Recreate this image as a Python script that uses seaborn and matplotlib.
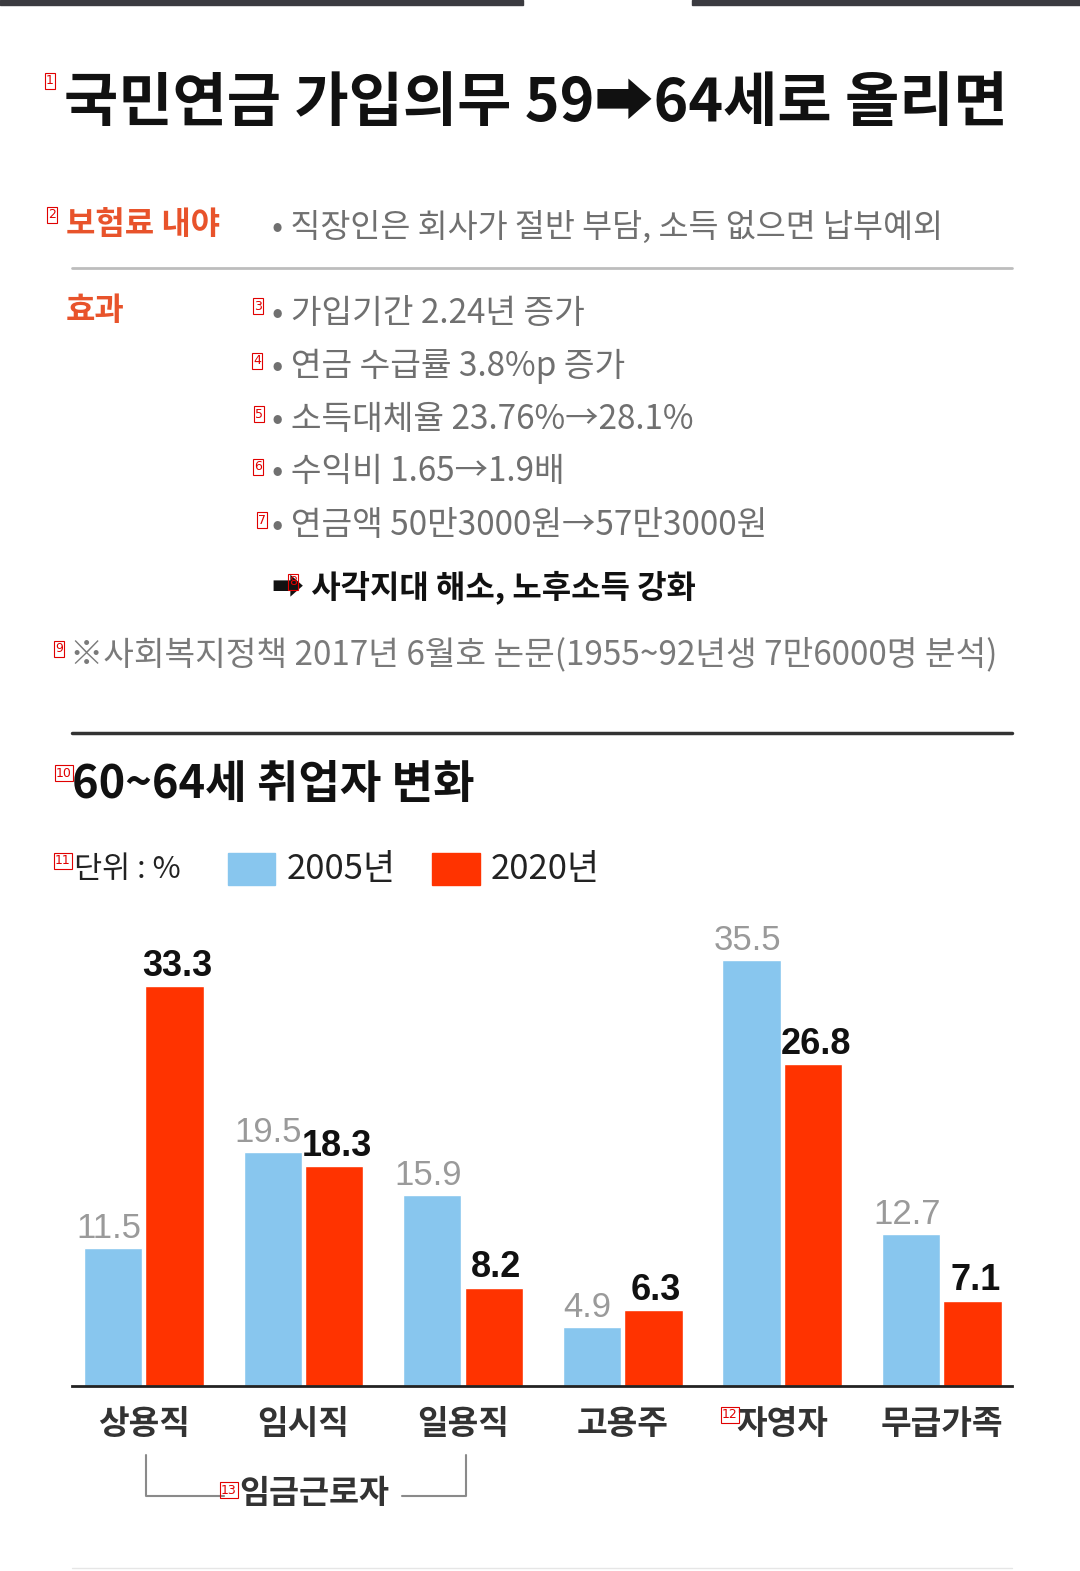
import numpy as np
import pandas as pd
import matplotlib
matplotlib.use('Agg')
import matplotlib.pyplot as plt
import seaborn as sns
from matplotlib.patches import Rectangle
from matplotlib.lines import Line2D

# data
categories = ['상용직', '임시직', '일용직', '고용주', '자영자', '무급가족']
values_2005 = [11.5, 19.5, 15.9, 4.9, 35.5, 12.7]
values_2020 = [33.3, 18.3, 8.2, 6.3, 26.8, 7.1]
years = ['2005년', '2020년']
colors = ['#88C6EE', '#FF3300']

title = '국민연금 가입의무 59➡64세로 올리면'
premium_label = '보험료 내야'
premium_text = '• 직장인은 회사가 절반 부담, 소득 없으면 납부예외'
effect_label = '효과'
effects = ['가입기간 2.24년 증가', '연금 수급률 3.8%p 증가', '소득대체율 23.76%→28.1%',
           '수익비 1.65→1.9배', '연금액 50만3000원→57만3000원']
conclusion = '➡ 사각지대 해소, 노후소득 강화'
source = '※사회복지정책 2017년 6월호 논문(1955~92년생 7만6000명 분석)'
chart_title = '60~64세 취업자 변화'
unit = '단위 : %'
group_label = '임금근로자'
marks = ['1', '2', '3', '4', '5', '6', '7', '8', '9', '10', '11', '12', '13']

df = pd.DataFrame({
    '직종': categories * 2,
    '비율': values_2005 + values_2020,
    '연도': [years[0]] * len(categories) + [years[1]] * len(categories),
})

sns.set_style('white')
plt.rcParams['font.family'] = ['Noto Sans CJK KR', 'DejaVu Sans']

W, H = 1080, 1571
fig = plt.figure(figsize=(W / 100, H / 100), dpi=100)


def fx(x):
    return x / W


def fy(y):
    return 1 - y / H


# top dark strip
fig.add_artist(Rectangle((0, fy(5)), 523 / W, 5 / H, color='#3b3b40', transform=fig.transFigure))
fig.add_artist(Rectangle((fx(692), fy(5)), 388 / W, 5 / H, color='#3b3b40', transform=fig.transFigure))

# header block
fig.text(fx(64), fy(104), title, fontsize=42.5, fontweight='bold', color='#111111', va='center')
fig.text(fx(66), fy(225), premium_label, fontsize=23, fontweight='bold', color='#E8532B', va='center')
fig.text(fx(272), fy(227), premium_text, fontsize=23.5, color='#707070', va='center')
fig.add_artist(Line2D([fx(72), fx(1012)], [fy(268), fy(268)], color='#bdbdbd', lw=2))
fig.text(fx(66), fy(311), effect_label, fontsize=23, fontweight='bold', color='#E8532B', va='center')
for i, t in enumerate(effects):
    fig.text(fx(272), fy(313 + i * 53), '• ' + t, fontsize=24, color='#707070', va='center')
fig.text(fx(272), fy(587), conclusion, fontsize=23, fontweight='bold', color='#111111', va='center')
fig.text(fx(70), fy(655), source, fontsize=24, color='#7a7a7a', va='center')
fig.add_artist(Line2D([fx(72), fx(1012)], [fy(733), fy(733)], color='#333333', lw=2.5))

fig.text(fx(72), fy(785), chart_title, fontsize=32.5, fontweight='bold', color='#111111', va='center')

# legend row
fig.text(fx(74), fy(870), unit, fontsize=22, color='#222222', va='center')
fig.add_artist(Rectangle((fx(228), fy(885)), 47 / W, 32 / H, color=colors[0], transform=fig.transFigure))
fig.text(fx(287), fy(870), years[0], fontsize=25, color='#222222', va='center')
fig.add_artist(Rectangle((fx(432), fy(885)), 48 / W, 32 / H, color=colors[1], transform=fig.transFigure))
fig.text(fx(491), fy(870), years[1], fontsize=25, color='#222222', va='center')

# bar chart
ax = fig.add_axes([fx(72), (H - 1386) / H, 940 / W, 480 / H])
sns.barplot(data=df, x='직종', y='비율', hue='연도', palette=colors, saturation=1,
            width=0.77, gap=0.05, legend=False, ax=ax)
ax.set_ylim(0, 40)
ax.set_xlim(-0.45, 5.44)
old_labels = ax.bar_label(ax.containers[0], fmt='%.1f', padding=2, color='#9a9a9a', fontsize=25,
                          family='Liberation Sans')
new_labels = ax.bar_label(ax.containers[1], fmt='%.1f', padding=2, color='#111111', fontsize=26,
                          fontweight='bold', family='Liberation Sans')
for a in old_labels:
    a.xyann = (-3, a.xyann[1])
for a in new_labels:
    a.xyann = (2, a.xyann[1])
sns.despine(ax=ax, left=True)
ax.spines['bottom'].set_color('#222222')
ax.spines['bottom'].set_linewidth(2)
ax.set_yticks([])
ax.set_xlabel('')
ax.set_ylabel('')
ax.tick_params(axis='x', length=0, pad=16, labelsize=24, labelcolor='#333333')
for lbl in ax.get_xticklabels():
    lbl.set_fontweight('bold')

# bracket for wage workers
fig.add_artist(Line2D([fx(146), fx(146), fx(224)], [fy(1455), fy(1496), fy(1496)], color='#8a8a8a', lw=1.5))
fig.add_artist(Line2D([fx(402), fx(466), fx(466)], [fy(1496), fy(1496), fy(1455)], color='#8a8a8a', lw=1.5))
fig.text(fx(314), fy(1493), group_label, fontsize=23.5, fontweight='bold', color='#333333',
         va='center', ha='center')
fig.add_artist(Line2D([fx(72), fx(1012)], [fy(1568), fy(1568)], color='#e6e6e6', lw=1))

# red numbered marks
mark_pos = [(50, 81), (52, 215), (258, 306), (257, 361), (259, 414), (258, 467), (262, 520),
            (293, 582), (59, 649), (64, 773), (63, 861), (730, 1415), (229, 1490)]
for m, (x, y) in zip(marks, mark_pos):
    fig.text(fx(x), fy(y), m, fontsize=9, color='#e00000', va='center', ha='center',
             family='DejaVu Sans',
             bbox=dict(boxstyle='square,pad=0.1', fc='none', ec='#e00000', lw=0.8))

fig.savefig('out.png', dpi=100)
